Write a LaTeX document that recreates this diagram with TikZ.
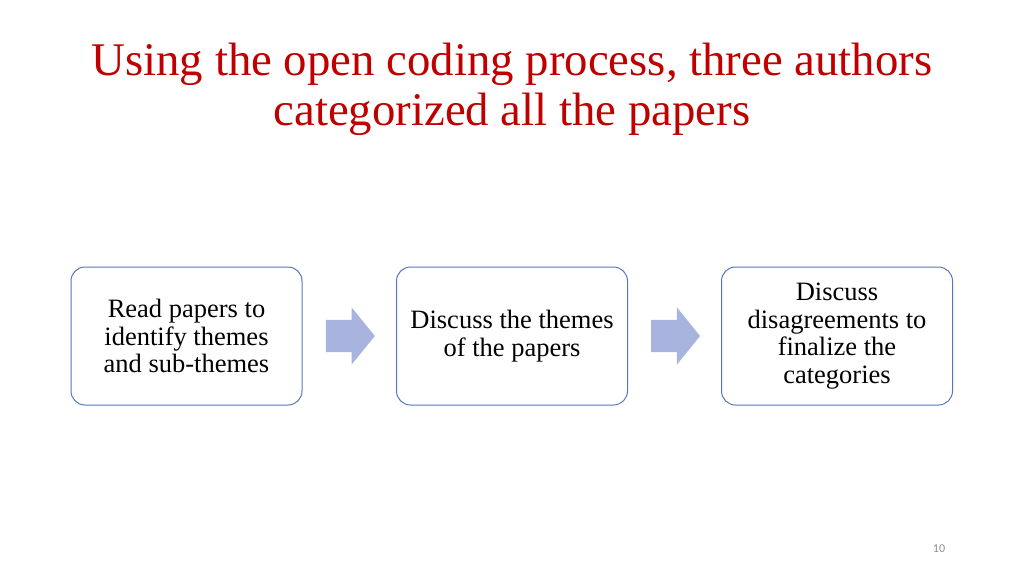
\documentclass[tikz,border=0pt]{standalone}
\usepackage{fontspec}
\setmainfont{Liberation Serif}
\newfontfamily\slidenumfont{Carlito}
\usetikzlibrary{shapes.arrows, positioning, calc}
\definecolor{titlered}{HTML}{C00000}
\definecolor{boxline}{HTML}{5677C0}
\definecolor{arrowfill}{HTML}{A8B4DD}
\definecolor{numgray}{HTML}{8C8C8C}

\tikzset{
    stepbox/.style={draw=boxline, line width=1pt, rounded corners=14pt,
        minimum width=231pt, minimum height=138pt, inner sep=0pt,
        align=center, font=\fontsize{26.5}{27.8}\selectfont},
    blockarrow/.style={single arrow, fill=arrowfill, draw=none, inner sep=0pt,
        text height=16pt, text depth=16pt, text width=0pt,
        minimum height=49pt, single arrow head extend=12.5pt,
        single arrow tip angle=102, xshift=-5.5pt}
}

\begin{document}
\begin{tikzpicture}[x=1pt, y=-1pt]

    % Slide area
    \useasboundingbox (0,0) rectangle (1024,576);
    \fill[white] (0,0) rectangle (1024,576);

    % Title
    \node[titlered, align=center, font=\fontsize{46.8}{50}\selectfont] (title) at (512,89)
        {Using the open coding process, three authors\\categorized all the papers};

    % Process steps
    \node[stepbox] (read) at (186.5,336) {Read papers to\\identify themes\\and sub-themes};
    \node[stepbox] (discuss) at (512,336) {Discuss the themes\\of the papers};
    \node[stepbox] (settle) at (837,336) {Discuss\\disagreements to\\finalize the\\categories};

    % Block arrows between the steps
    \node[blockarrow] (arrowone) at ($(read.east)!0.5!(discuss.west)$) {};
    \node[blockarrow] (arrowtwo) at ($(discuss.east)!0.5!(settle.west)$) {};

    % Slide number
    \node[numgray, font=\slidenumfont\fontsize{12}{13}\selectfont] (pagenum) at (939,549) {10};

\end{tikzpicture}
\end{document}
